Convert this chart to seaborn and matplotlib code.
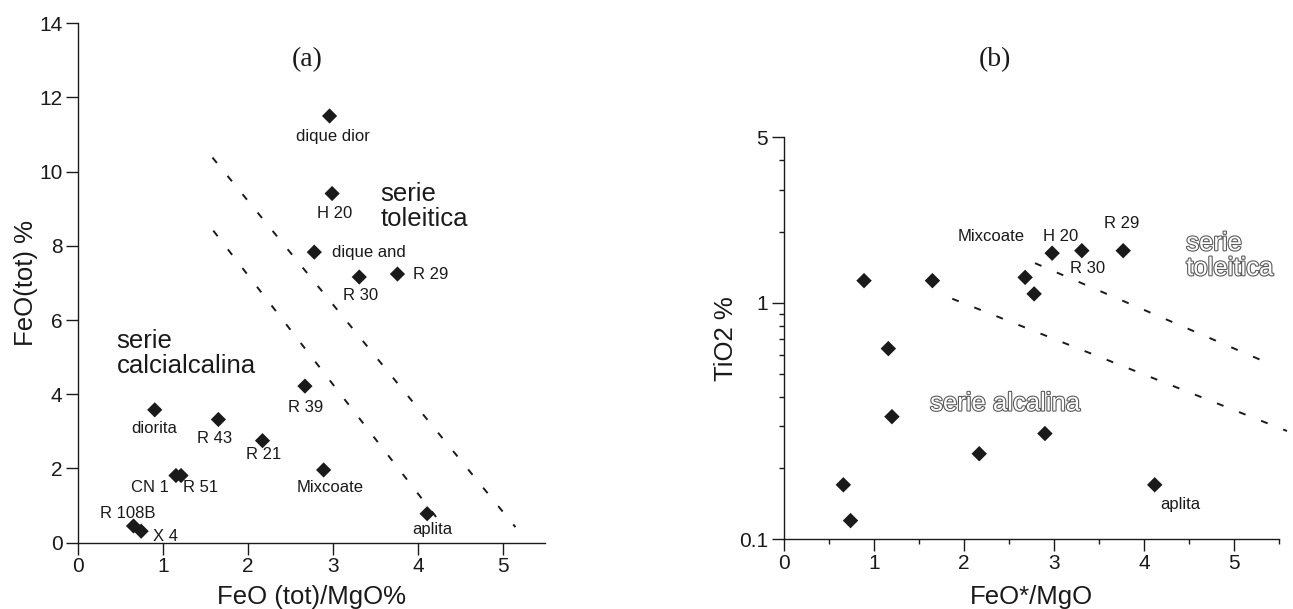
import matplotlib
matplotlib.use('Agg')
import matplotlib.pyplot as plt
import matplotlib.patheffects as pe
from matplotlib.ticker import FixedLocator, FixedFormatter, NullFormatter, MultipleLocator
import pandas as pd
import seaborn as sns

# panel (a): FeO(tot) vs FeO(tot)/MgO
samples_a = ['dique dior', 'H 20', 'dique and', 'R 30', 'R 29', 'R 39', 'diorita',
             'R 43', 'R 21', 'CN 1', 'R 51', 'Mixcoate', 'aplita', 'R 108B', 'X 4']
feo_mgo_a = [2.96, 2.99, 2.78, 3.31, 3.76, 2.67, 0.90, 1.65, 2.17, 1.15, 1.21, 2.89, 4.11, 0.65, 0.74]
feo_tot_a = [11.50, 9.41, 7.83, 7.16, 7.24, 4.22, 3.58, 3.32, 2.75, 1.81, 1.81, 1.96, 0.78, 0.45, 0.31]

# panel (b): TiO2 vs FeO*/MgO
feo_mgo_b = [0.89, 1.65, 2.68, 2.78, 2.98, 3.31, 3.77, 1.16, 1.20, 2.90, 2.17, 0.66, 4.12, 0.74]
tio2_b = [1.24, 1.24, 1.28, 1.09, 1.62, 1.66, 1.66, 0.64, 0.33, 0.28, 0.23, 0.17, 0.17, 0.12]

# discriminant lines (end points)
line_a_upper_x = [1.58, 5.15]
line_a_upper_y = [10.38, 0.42]
line_a_lower_x = [1.59, 4.24]
line_a_lower_y = [8.41, 0.62]
line_b_upper_x = [2.79, 5.36]
line_b_upper_y = [1.47, 0.56]
line_b_lower_x = [1.87, 5.59]
line_b_lower_y = [1.04, 0.287]

# where the sample names sit (x, y, ha)
labels_a = {
    'dique dior': (3.00, 10.94, 'center'),
    'H 20': (3.02, 8.88, 'center'),
    'dique and': (2.99, 7.83, 'left'),
    'R 30': (3.33, 6.66, 'center'),
    'R 29': (3.94, 7.24, 'left'),
    'R 39': (2.68, 3.64, 'center'),
    'diorita': (0.89, 3.09, 'center'),
    'R 43': (1.60, 2.81, 'center'),
    'R 21': (2.18, 2.38, 'center'),
    'CN 1': (0.84, 1.50, 'center'),
    'R 51': (1.44, 1.50, 'center'),
    'Mixcoate': (2.97, 1.50, 'center'),
    'aplita': (4.17, 0.35, 'center'),
    'R 108B': (0.58, 0.79, 'center'),
    'X 4': (1.03, 0.18, 'center'),
}
labels_b = {
    'Mixcoate': (2.30, 1.90),
    'H 20': (3.08, 1.90),
    'R 29': (3.75, 2.17),
    'R 30': (3.37, 1.40),
    'aplita': (4.40, 0.141),
}

sns.set_style('ticks')
plt.rcParams['font.family'] = ['Liberation Sans', 'DejaVu Sans']
plt.rcParams['axes.linewidth'] = 1.0
ink = '#1a1a1a'

fig = plt.figure(figsize=(12.93, 6.09), dpi=100)
ax_a = fig.add_axes([0.0606, 0.1089, 0.361, 0.853])
ax_b = fig.add_axes([0.6063, 0.1144, 0.3828, 0.660])

dash = dict(color=ink, lw=1.4, dashes=(3.6, 8.6))

# ---- panel a
df_a = pd.DataFrame({'x': feo_mgo_a, 'y': feo_tot_a, 'sample': samples_a})
sns.scatterplot(data=df_a, x='x', y='y', ax=ax_a, marker='D', s=60,
                color=ink, edgecolor='none', zorder=3)
ax_a.plot(line_a_upper_x, line_a_upper_y, **dash)
ax_a.plot(line_a_lower_x, line_a_lower_y, **dash)

for name, (tx, ty, ha) in labels_a.items():
    ax_a.text(tx, ty, name, fontsize=12, ha=ha, va='center', color=ink)

ax_a.text(3.56, 9.07, 'serie\ntoleitica', fontsize=18.5, ha='left', va='center',
          linespacing=1.05, color=ink)
ax_a.text(0.45, 5.11, 'serie\ncalcialcalina', fontsize=18.5, ha='left', va='center',
          linespacing=1.05, color=ink)
ax_a.text(2.70, 13.03, '(a)', fontsize=20, ha='center', va='center',
          family=['Liberation Serif', 'DejaVu Serif'], color=ink)

ax_a.set_xlim(0, 5.5)
ax_a.set_ylim(0, 14)
ax_a.set_xticks([0, 1, 2, 3, 4, 5])
ax_a.set_yticks([0, 2, 4, 6, 8, 10, 12, 14])
ax_a.set_xlabel('FeO (tot)/MgO%', fontsize=18.5, labelpad=6.5, color=ink)
ax_a.set_ylabel('FeO(tot) %', fontsize=18.5, labelpad=1, color=ink)

# ---- panel b
df_b = pd.DataFrame({'x': feo_mgo_b, 'y': tio2_b})
sns.scatterplot(data=df_b, x='x', y='y', ax=ax_b, marker='D', s=62,
                color=ink, edgecolor='none', zorder=3)
ax_b.set_yscale('log')
ax_b.plot(line_b_upper_x, line_b_upper_y, clip_on=False, **dash)
ax_b.plot(line_b_lower_x, line_b_lower_y, clip_on=False, **dash)

for name, (tx, ty) in labels_b.items():
    ax_b.text(tx, ty, name, fontsize=12, ha='center', va='center', color=ink)

hollow = [pe.withStroke(linewidth=1.6, foreground='#5a5a5a')]
ax_b.text(4.47, 1.58, 'serie\ntoleitica', fontsize=18.5, ha='left', va='center',
          linespacing=1.05, color='white', path_effects=hollow)
ax_b.text(2.46, 0.375, 'serie alcalina', fontsize=18.5, ha='center', va='center',
          color='white', path_effects=hollow)
ax_b.text(2.34, 10.7, '(b)', fontsize=20, ha='center', va='center',
          family=['Liberation Serif', 'DejaVu Serif'], color=ink)

ax_b.set_xlim(0, 5.5)
ax_b.set_ylim(0.1, 5)
ax_b.set_xticks([0, 1, 2, 3, 4, 5])
ax_b.xaxis.set_minor_locator(MultipleLocator(0.5))
ax_b.yaxis.set_major_locator(FixedLocator([0.1, 1, 5]))
ax_b.yaxis.set_major_formatter(FixedFormatter(['0.1', '1', '5']))
ax_b.yaxis.set_minor_locator(FixedLocator([0.2, 0.3, 0.4, 0.5, 0.6, 0.7, 0.8, 0.9, 2, 3, 4]))
ax_b.yaxis.set_minor_formatter(NullFormatter())
ax_b.set_xlabel('FeO*/MgO', fontsize=18.5, labelpad=8.5, color=ink)
ax_b.set_ylabel('TiO2 %', fontsize=18.5, labelpad=0.5, color=ink)

for ax in (ax_a, ax_b):
    sns.despine(ax=ax)
    for sp in ('left', 'bottom'):
        ax.spines[sp].set_color(ink)
    ax.tick_params(which='major', direction='out', length=8.5, width=1.0,
                   labelsize=15, colors=ink, pad=2)
    ax.tick_params(which='minor', direction='out', length=3.4, width=1.0, colors=ink)
    ax.tick_params(axis='y', which='major', pad=3)

fig.savefig('out.png', dpi=100)
